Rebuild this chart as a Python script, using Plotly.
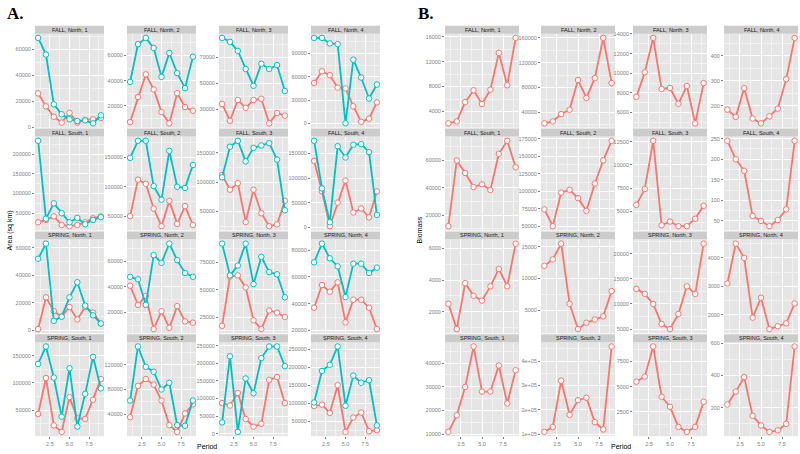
import plotly.graph_objects as go

periods = [1, 2, 3, 4, 5, 6, 7, 8, 9]

facet_labels = [
    "FALL, North, 1", "FALL, North, 2", "FALL, North, 3", "FALL, North, 4",
    "FALL, South, 1", "FALL, South, 2", "FALL, South, 3", "FALL, South, 4",
    "SPRING, North, 1", "SPRING, North, 2", "SPRING, North, 3", "SPRING, North, 4",
    "SPRING, South, 1", "SPRING, South, 2", "SPRING, South, 3", "SPRING, South, 4",
]

# panel A, red series (area)
area_red = [
    [26000, 16000, 8000, 3500, 11000, 3500, 5500, 6000, 7000],
    [7000, 27000, 45000, 33000, 15000, 6000, 30000, 19000, 16000],
    [34000, 21000, 37000, 31000, 37000, 38000, 19000, 27000, 25000],
    [52000, 67000, 62000, 46000, 45000, 22000, 2000, 6000, 27000],
    [27000, 33000, 42000, 20000, 17000, 20000, 27000, 37000, 42000],
    [50000, 112000, 105000, 63000, 33000, 76000, 37000, 67000, 35000],
    [112000, 87000, 98000, 32000, 87000, 47000, 25000, 28000, 68000],
    [135000, 73000, 2000, 50000, 95000, 30000, 38000, 20000, 73000],
    [1000, 24000, 14000, 10000, 17000, 8000, 17000, 13000, 5000],
    [41000, 26000, 33000, 7000, 21000, 8000, 25000, 13000, 12000],
    [17000, 62000, 63000, 52000, 22000, 14000, 31000, 29000, 25000],
    [37000, 54000, 49000, 56000, 26000, 43000, 43000, 37000, 21000],
    [43000, 109000, 22000, 10000, 74000, 35000, 34000, 69000, 107000],
    [35000, 86000, 97000, 88000, 62000, 22000, 11000, 41000, 56000],
    [87000, 80000, 116000, 42000, 20000, 28000, 153000, 161000, 87000],
    [92000, 96000, 73000, 150000, 20000, 60000, 74000, 22000, 25000],
]

# panel A, teal series (area)
area_teal = [
    [68800, 56000, 17600, 9900, 6000, 4700, 5200, 2900, 9100],
    [39000, 69000, 74000, 66000, 43000, 62000, 46000, 34000, 59000],
    [85000, 82000, 75000, 61000, 48000, 65000, 61000, 64000, 44000],
    [110000, 110000, 103000, 102000, 0, 82000, 59000, 32000, 50000],
    [234000, 36000, 75000, 50000, 27000, 38000, 22000, 33000, 40000],
    [149000, 178000, 178000, 101000, 78000, 161000, 100000, 98000, 137000],
    [108000, 160000, 170000, 135000, 158000, 162000, 166000, 138000, 52000],
    [176000, 79000, 10000, 165000, 142000, 168000, 169000, 153000, 25000],
    [52000, 63000, 7000, 10000, 24000, 35000, 18000, 11000, 5000],
    [48000, 46000, 26000, 65000, 59000, 74000, 61000, 51000, 48000],
    [92000, 63000, 72000, 92000, 55000, 80000, 66000, 64000, 43000],
    [71000, 85000, 74000, 68000, 45000, 70000, 70000, 63000, 67000],
    [135000, 167000, 110000, 38000, 127000, 20000, 80000, 148000, 90000],
    [62000, 150000, 117000, 109000, 80000, 91000, 22000, 21000, 62000],
    [32000, 220000, 5000, 157000, 115000, 215000, 248000, 248000, 192000],
    [102000, 190000, 207000, 258000, 93000, 177000, 157000, 164000, 38000],
]

# panel B, biomass
biomass = [
    [2100, 2400, 5500, 7400, 5200, 7500, 13400, 8200, 15800],
    [22000, 25000, 37000, 44000, 92000, 63000, 95000, 160000, 87000],
    [7600, 10100, 13600, 8400, 8500, 6900, 8700, 4900, 9000],
    [184, 155, 270, 148, 129, 157, 188, 306, 471],
    [11800, 60000, 50800, 40500, 42500, 38300, 64800, 74400, 55000],
    [74000, 50000, 98000, 102000, 90000, 72000, 111000, 144000, 172000],
    [5700, 7400, 12600, 3500, 3900, 3400, 3400, 4200, 5600],
    [245, 200, 172, 62, 50, 37, 52, 78, 245],
    [2500, 900, 3800, 3000, 2700, 3600, 4700, 3600, 6300],
    [12000, 13000, 15500, 6000, 2000, 3000, 3500, 4000, 8000],
    [13000, 12000, 10000, 6000, 5000, 8000, 13500, 12000, 22000],
    [3100, 4500, 4000, 1900, 2600, 1500, 1600, 1700, 2400],
    [11000, 18000, 30000, 47000, 28000, 28000, 39000, 23000, 37000],
    [110000, 130000, 320000, 180000, 240000, 250000, 150000, 120000, 460000],
    [5500, 6000, 9000, 4000, 3000, 1000, 500, 1000, 3500],
    [220, 300, 390, 150, 90, 50, 60, 100, 580],
]

# y tick spacing per facet
area_dtick = [20000, 20000, 20000, 30000, 50000, 50000, 50000, 50000,
              20000, 20000, 25000, 20000, 50000, 40000, 50000, 50000]
area_tick0 = [0, 0, 10000, 0, 0, 0, 0, 0, 0, 0, 0, 0, 0, 0, 0, 0]
biomass_dtick = [4000, 40000, 2000, 100, 20000, 25000, 2500, 50,
                 2000, 5000, 5000, 1000, 10000, 100000, 2500, 200]

RED = "#F8766D"
TEAL = "#00BFC4"
W, H = 800, 454

# facet geometry in pixels
a_lefts = [35, 127, 219, 311]
b_lefts = [445, 541, 633, 724]
a_width = 69
b_width = 74
strip_tops = [23, 127, 231, 335]
strip_h = 8
panel_h = 95


def fx(x):
    return x / W


def fy(y):
    return 1 - y / H


fig = go.Figure()
layout = {}
shapes = []
annotations = []


def add_facet(n, left, width, row, i, series, dtick, tick0):
    top = strip_tops[row] + strip_h
    xname = "x" if n == 1 else f"x{n}"
    yname = "y" if n == 1 else f"y{n}"
    for ys, col in series:
        fig.add_trace(go.Scatter(
            x=periods, y=ys, mode="lines+markers",
            line=dict(color=col, width=1.8),
            marker=dict(size=5.5, color="white", line=dict(color=col, width=1)),
            xaxis=xname, yaxis=yname, showlegend=False,
        ))
    allv = [v for ys, _ in series for v in ys]
    lo, hi = min(allv), max(allv)
    pad = (hi - lo) * 0.05
    yax = dict(
        domain=[fy(top + panel_h), fy(top)], anchor=xname,
        range=[lo - pad, hi + pad], dtick=dtick, tick0=tick0,
        tickformat="d", showgrid=True, gridcolor="white", gridwidth=0.8,
        minor=dict(dtick=dtick / 2, tick0=tick0, showgrid=True, gridcolor="#F2F2F2", gridwidth=0.4),
        zeroline=False, showline=False, ticks="outside", ticklen=2,
        tickcolor="#7F7F7F", tickwidth=0.6,
        tickfont=dict(size=5.5, color="#7F7F7F", family="Liberation Sans"),
    )
    if dtick == 100000:
        yax.update(tickmode="array", tickvals=[100000, 200000, 300000, 400000],
                   ticktext=["1e+05", "2e+05", "3e+05", "4e+05"])
    xax = dict(
        domain=[fx(left), fx(left + width)], anchor=yname,
        range=[0.6, 9.4], dtick=2.5, tick0=0, tickformat=".1f",
        showgrid=True, gridcolor="white", gridwidth=0.8,
        minor=dict(dtick=1.25, tick0=0, showgrid=True, gridcolor="#F2F2F2", gridwidth=0.4),
        zeroline=False, showline=False, showticklabels=(row == 3),
        ticks="outside" if row == 3 else "", ticklen=2,
        tickcolor="#7F7F7F", tickwidth=0.6,
        tickfont=dict(size=5.5, color="#7F7F7F", family="Liberation Sans"),
    )
    layout["xaxis" if n == 1 else f"xaxis{n}"] = xax
    layout["yaxis" if n == 1 else f"yaxis{n}"] = yax
    shapes.append(dict(type="rect", xref="paper", yref="paper",
                       x0=fx(left), x1=fx(left + width),
                       y0=fy(top), y1=fy(strip_tops[row]),
                       fillcolor="#CCCCCC", line=dict(width=0)))
    annotations.append(dict(text=facet_labels[i], xref="paper", yref="paper",
                            x=fx(left + width / 2), y=fy(strip_tops[row] + strip_h / 2),
                            showarrow=False, font=dict(size=5.5, color="#1A1A1A", family="Liberation Sans"),
                            xanchor="center", yanchor="middle"))


n = 0
for i in range(16):
    row, col = divmod(i, 4)
    n += 1
    add_facet(n, a_lefts[col], a_width, row, i,
              [(area_red[i], RED), (area_teal[i], TEAL)],
              area_dtick[i], area_tick0[i])
for i in range(16):
    row, col = divmod(i, 4)
    n += 1
    add_facet(n, b_lefts[col], b_width, row, i,
              [(biomass[i], RED)], biomass_dtick[i], 0)

text_font = dict(size=7, color="black", family="Liberation Sans")
annotations += [
    dict(text="Area (sq km)", x=fx(10), y=fy(230), textangle=-90, font=text_font),
    dict(text="Biomass", x=fx(419), y=fy(230), textangle=-90, font=text_font),
    dict(text="Period", x=fx(207), y=fy(448), font=text_font),
    dict(text="Period", x=fx(621), y=fy(448), font=text_font),
    dict(text="<b>A.</b>", x=fx(15), y=fy(11),
         font=dict(size=17, color="black", family="Liberation Serif")),
    dict(text="<b>B.</b>", x=fx(426), y=fy(11),
         font=dict(size=17, color="black", family="Liberation Serif")),
]
for a in annotations[-6:]:
    a.update(xref="paper", yref="paper", showarrow=False,
             xanchor="center", yanchor="middle")

fig.update_layout(
    width=W, height=H, margin=dict(l=0, r=0, t=0, b=0),
    paper_bgcolor="white", plot_bgcolor="#E5E5E5",
    shapes=shapes, annotations=annotations, **layout,
)

# drop the default page margin so the 800x454 figure fills the window
fig.write_html("out.html", config={"displayModeBar": False},
               post_script="document.body.style.margin='0px';document.body.style.overflow='hidden';")
